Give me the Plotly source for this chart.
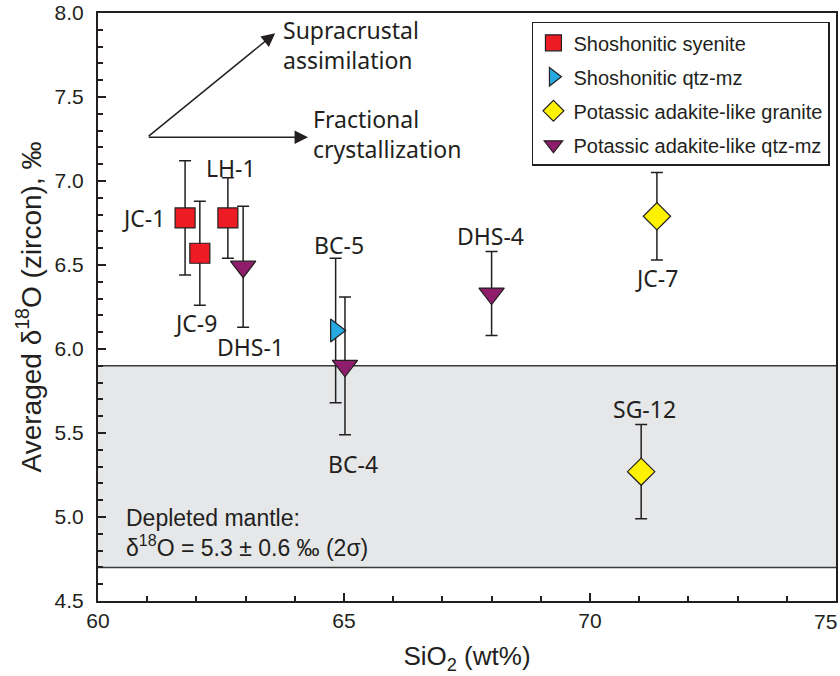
import plotly.graph_objects as go

# ---------------- data ----------------
groups = ["Shoshonitic syenite", "Shoshonitic qtz-mz",
          "Potassic adakite-like granite", "Potassic adakite-like qtz-mz"]

syenite_names = ["JC-1", "JC-9", "LH-1"]
syenite_sio2 = [61.77, 62.07, 62.64]
syenite_d18o = [6.78, 6.57, 6.78]
syenite_err = [0.34, 0.31, 0.24]

sqm_names = ["BC-5"]
sqm_sio2 = [64.83]
sqm_d18o = [6.11]
sqm_err = [0.43]

granite_names = ["JC-7", "SG-12"]
granite_sio2 = [71.36, 71.04]
granite_d18o = [6.79, 5.27]
granite_err = [0.26, 0.28]

pqm_names = ["DHS-1", "BC-4", "DHS-4"]
pqm_sio2 = [62.95, 65.02, 68.0]
pqm_d18o = [6.49, 5.90, 6.33]
pqm_err = [0.36, 0.41, 0.25]

mantle_low, mantle_high = 4.7, 5.9

x_ticks = [60, 65, 70, 75]
x_ticktext = ["60", "65", "70", ""]     # last label drawn right-aligned below
x_last_label = "75"
y_ticks = [4.5, 5.0, 5.5, 6.0, 6.5, 7.0, 7.5, 8.0]

# trend arrows: origin and tips (SiO2, d18O)
arrow_origin = (61.0, 7.26)
arrow_assim_tip = (63.6, 7.88)
arrow_fc_tip = (64.27, 7.26)

# ---------------- styles ----------------
DARK = "#231f20"
TICKFONT = "Liberation Sans, Arial, sans-serif"
LABFONT = "Noto Sans, Open Sans, sans-serif"

styles = [
    dict(symbol="square", color="#ed1c24", size=20),
    dict(symbol="triangle-right", color="#27aae1", size=20),
    dict(symbol="diamond", color="#fff200", size=21),
    dict(symbol="triangle-down", color="#8f1d6b", size=22),
]
datasets = [
    (syenite_names, syenite_sio2, syenite_d18o, syenite_err),
    (sqm_names, sqm_sio2, sqm_d18o, sqm_err),
    (granite_names, granite_sio2, granite_d18o, granite_err),
    (pqm_names, pqm_sio2, pqm_d18o, pqm_err),
]

# label offsets in pixels (xshift, yshift)
label_offsets = {
    "JC-1": (-42, 0), "JC-9": (-4, -70), "LH-1": (3, 50),
    "BC-5": (3, 86), "JC-7": (0, -62), "SG-12": (3, 63),
    "DHS-1": (7, -80), "BC-4": (8, -98), "DHS-4": (-1, 58),
}

fig = go.Figure()

for g, st, (names, xs, ys, es) in zip(groups, styles, datasets):
    fig.add_trace(go.Scatter(
        x=xs, y=ys, mode="markers", name=g, showlegend=False,
        error_y=dict(type="data", array=es, visible=True, color=DARK,
                     thickness=1.5, width=6),
        marker=dict(symbol=st["symbol"], color=st["color"], size=st["size"],
                    line=dict(color=DARK, width=1.2)),
    ))

for i, (g, st) in enumerate(zip(groups, styles)):
    fig.add_trace(go.Scatter(
        x=[None], y=[None], mode="markers", name=g, legendgroup=f"g{i}",
        marker=dict(symbol=st["symbol"], color=st["color"], size=st["size"],
                    line=dict(color=DARK, width=1.2)),
    ))

annotations = []
for names, xs, ys, es in datasets:
    for n, x, y in zip(names, xs, ys):
        dx, dy = label_offsets[n]
        annotations.append(dict(
            x=x, y=y, xref="x", yref="y", text=n, showarrow=False,
            xshift=dx, yshift=dy, font=dict(family=LABFONT, size=23, color=DARK)))

# arrows
for tip in (arrow_assim_tip, arrow_fc_tip):
    annotations.append(dict(
        x=tip[0], y=tip[1], ax=arrow_origin[0], ay=arrow_origin[1],
        xref="x", yref="y", axref="x", ayref="y", text="",
        showarrow=True, arrowhead=2, arrowsize=1.8, arrowwidth=1.5,
        arrowcolor=DARK))

annotations.append(dict(
    x=63.72, y=7.81, xref="x", yref="y", xanchor="left", yanchor="middle",
    align="left", text="Supracrustal<br>assimilation", showarrow=False,
    font=dict(family=LABFONT, size=23, color=DARK)))
annotations.append(dict(
    x=64.33, y=7.28, xref="x", yref="y", xanchor="left", yanchor="middle",
    align="left", text="Fractional<br>crystallization", showarrow=False,
    font=dict(family=LABFONT, size=23, color=DARK)))
annotations.append(dict(
    x=60.53, y=4.905, xref="x", yref="y", xanchor="left", yanchor="middle",
    align="left",
    text="Depleted mantle:<br>δ<sup>18</sup>O = 5.3 ± 0.6 ‰ (2σ)",
    showarrow=False, font=dict(family=TICKFONT, size=23, color=DARK)))
# last x tick label, kept inside the page edge
annotations.append(dict(
    x=x_ticks[-1], y=0, xref="x", yref="paper", xanchor="right", yanchor="middle",
    yshift=-20, xshift=3, text=x_last_label, showarrow=False,
    font=dict(family=TICKFONT, size=21, color=DARK)))

fig.update_layout(
    width=840, height=676,
    margin=dict(l=98, r=4, t=13, b=75, autoexpand=False),
    paper_bgcolor="white", plot_bgcolor="white",
    showlegend=True,
    legend=dict(x=0.588, y=0.985, xanchor="left", yanchor="top",
                bgcolor="white", bordercolor=DARK, borderwidth=1.5,
                font=dict(family=TICKFONT, size=20, color=DARK),
                tracegroupgap=5, traceorder="grouped"),
    annotations=annotations,
    shapes=[dict(type="rect", xref="paper", yref="y", x0=0, x1=1,
                 y0=mantle_low, y1=mantle_high, fillcolor="#e6e7e8",
                 line=dict(width=0), layer="below"),
            dict(type="line", xref="paper", yref="y", x0=0, x1=1,
                 y0=mantle_high, y1=mantle_high, line=dict(color="#3a3a3a", width=1.5),
                 layer="below"),
            dict(type="line", xref="paper", yref="y", x0=0, x1=1,
                 y0=mantle_low, y1=mantle_low, line=dict(color="#3a3a3a", width=1.5),
                 layer="below")],
)

fig.update_xaxes(
    range=[60, 75], tickvals=x_ticks, ticktext=x_ticktext, automargin=False,
    ticks="inside", ticklen=8, tickwidth=1.5, tickcolor=DARK,
    minor=dict(dtick=1, ticks="inside", ticklen=5, tickwidth=1.5, tickcolor=DARK),
    showline=True, linecolor=DARK, linewidth=2, mirror=True,
    showgrid=False, zeroline=False,
    tickfont=dict(family=TICKFONT, size=21, color=DARK),
    title=dict(text="SiO<sub>2</sub> (wt%)", standoff=16,
               font=dict(family=TICKFONT, size=26, color=DARK)),
)
fig.update_yaxes(
    range=[4.5, 8.0], tickvals=y_ticks, ticktext=[f"{v:.1f}" for v in y_ticks],
    automargin=False,
    ticks="inside", ticklen=8, tickwidth=1.5, tickcolor=DARK,
    minor=dict(dtick=0.1, tick0=4.5, ticks="inside", ticklen=5, tickwidth=1.5, tickcolor=DARK),
    showline=True, linecolor=DARK, linewidth=2, mirror=True,
    showgrid=False, zeroline=False, ticklabelstandoff=8,
    tickfont=dict(family=TICKFONT, size=21, color=DARK),
    title=dict(text="Averaged δ<sup>18</sup>O (zircon), ‰", standoff=5,
               font=dict(family=TICKFONT, size=28, color=DARK)),
)

fig.write_html("out.html")
